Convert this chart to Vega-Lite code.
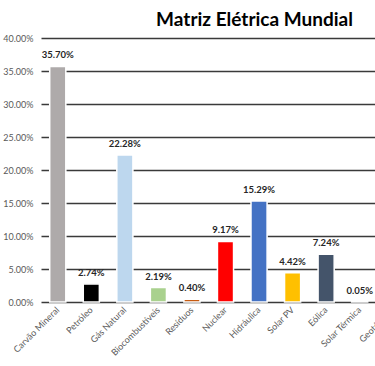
{
  "$schema": "https://vega.github.io/schema/vega-lite/v6.json",
  "width": 369,
  "height": 264,
  "autosize": "none",
  "padding": {"left": 41, "top": 38, "right": 0, "bottom": 64},
  "background": "white",
  "title": {
    "text": "Matriz Elétrica Mundial",
    "font": "Lato",
    "fontSize": 19,
    "fontWeight": "bold",
    "color": "#000000",
    "anchor": "middle",
    "dx": 29,
    "offset": 4
  },
  "data": {
    "values": [
      {"fonte": "Carvão Mineral", "valor": 0.3570, "cor": "#AEAAAA"},
      {"fonte": "Petróleo", "valor": 0.0274, "cor": "#000000"},
      {"fonte": "Gás Natural", "valor": 0.2228, "cor": "#BDD7EE"},
      {"fonte": "Biocombustíveis", "valor": 0.0219, "cor": "#A9D18E"},
      {"fonte": "Resíduos", "valor": 0.0040, "cor": "#C55A11"},
      {"fonte": "Nuclear", "valor": 0.0917, "cor": "#FF0000"},
      {"fonte": "Hidráulica", "valor": 0.1529, "cor": "#4472C4"},
      {"fonte": "Solar PV", "valor": 0.0442, "cor": "#FFC000"},
      {"fonte": "Eólica", "valor": 0.0724, "cor": "#44546A"},
      {"fonte": "Solar Térmica", "valor": 0.0005, "cor": "#70AD47"},
      {"fonte": "Geotérmica", "valor": 0.0033, "cor": "#7F6000"}
    ]
  },
  "encoding": {
    "x": {
      "field": "fonte",
      "type": "nominal",
      "sort": null,
      "title": null,
      "scale": {"paddingInner": 0.52, "paddingOuter": 0.26},
      "axis": {
        "labelAngle": -45,
        "labelAlign": "right",
        "labelBaseline": "middle",
        "labelPadding": 6,
        "ticks": false,
        "domain": false,
        "labelFont": "Lato",
        "labelFontSize": 9,
        "labelColor": "#595959",
        "labelOverlap": false
      }
    },
    "y": {
      "field": "valor",
      "type": "quantitative",
      "title": null,
      "scale": {"domain": [0, 0.4], "nice": false},
      "axis": {
        "values": [0, 0.05, 0.1, 0.15, 0.2, 0.25, 0.3, 0.35, 0.4],
        "format": ".2%",
        "ticks": false,
        "domain": false,
        "labelPadding": 8,
        "labelFont": "Lato",
        "labelFontSize": 9,
        "labelColor": "#595959",
        "gridColor": "#3a3a3a",
        "gridWidth": 1.5,
        "gridOpacity": 1
      }
    }
  },
  "layer": [
    {
      "mark": {"type": "bar", "stroke": "white", "strokeWidth": 1.5},
      "encoding": {
        "color": {"field": "cor", "type": "nominal", "scale": null}
      }
    },
    {
      "mark": {
        "type": "text",
        "baseline": "bottom",
        "dy": -6,
        "font": "Lato",
        "fontSize": 9.5,
        "fontWeight": "bold",
        "color": "#262626"
      },
      "encoding": {
        "text": {"field": "valor", "type": "quantitative", "format": ".2%"}
      }
    }
  ],
  "config": {"view": {"stroke": null}}
}
